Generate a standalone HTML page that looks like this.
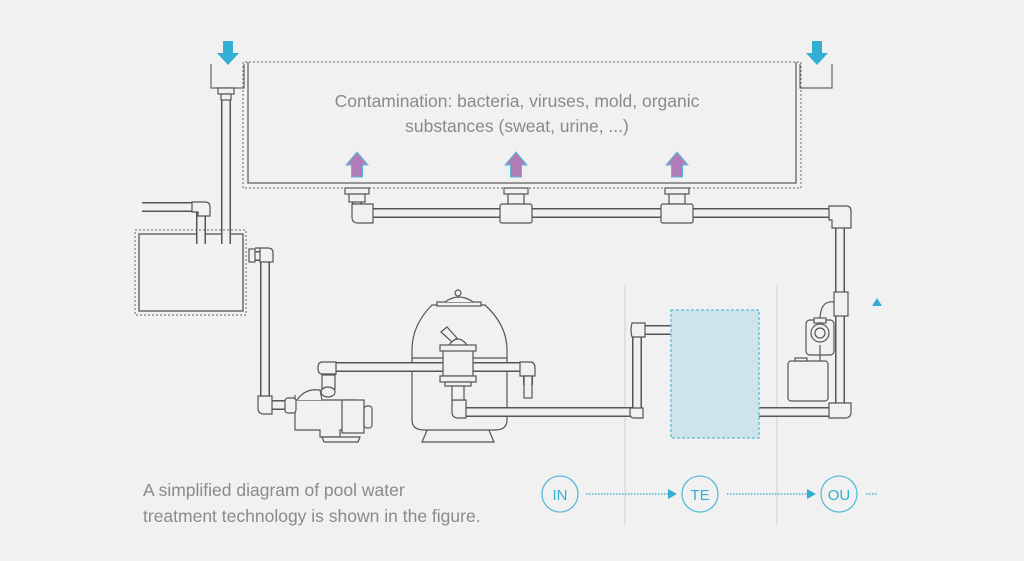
<!DOCTYPE html>
<html><head><meta charset="utf-8"><style>
html,body{margin:0;padding:0;background:#f1f1f1;}
svg{display:block;}
text{font-family:"Liberation Sans",sans-serif;}
</style></head><body>
<svg width="1024" height="561" viewBox="0 0 1024 561" xmlns="http://www.w3.org/2000/svg">
<rect width="1024" height="561" fill="#f1f1f1"/>
<defs>
<g id="uparrow"><path d="M0,-13 L11,0 L5.5,0 L5.5,12 L-5.5,12 L-5.5,0 L-11,0 Z" fill="#b07cb8" stroke="#5bbcd8" stroke-width="1"/></g>
<g id="downarrow"><path d="M-5,-12 L5,-12 L5,0 L11,0 L0,12 L-11,0 L-5,0 Z" fill="#35aed3"/></g>
</defs>

<line x1="625" y1="285" x2="625" y2="525" stroke="#d4d4d4" stroke-width="1.2"/>
<line x1="777" y1="285" x2="777" y2="525" stroke="#d4d4d4" stroke-width="1.2"/>

<path d="M243,188 L243,62 L801,62 L801,188 Z" fill="none" stroke="#666" stroke-width="1" stroke-dasharray="2,2"/>
<path d="M248,62 L248,183 L796,183 L796,62" fill="none" stroke="#777" stroke-width="1.5"/>
<path d="M211,64 L211,88 L244,88 L244,64" fill="none" stroke="#666" stroke-width="1.2"/>
<path d="M800,64 L800,88 L832,88 L832,64" fill="none" stroke="#666" stroke-width="1.2"/>
<use href="#downarrow" x="228" y="53"/>
<use href="#downarrow" x="817" y="53"/>

<text x="517" y="107" font-size="17.5" fill="#8a8a8a" text-anchor="middle">Contamination: bacteria, viruses, mold, organic</text>
<text x="517" y="132" font-size="17.5" fill="#8a8a8a" text-anchor="middle">substances (sweat, urine, ...)</text>

<use href="#uparrow" x="357" y="165"/>
<use href="#uparrow" x="516" y="165"/>
<use href="#uparrow" x="677" y="165"/>

<!-- sand filter body (behind pipes) -->
<g fill="#f1f1f1" stroke="#555" stroke-width="1.2">
 <path d="M428,428 L422,442 L494,442 L488,428 Z"/>
 <path d="M412,350 L412,420 Q412,430 424,430 L495,430 Q507,430 507,420 L507,350 Q507,325 485,305 L432,305 Q412,325 412,350 Z"/>
 <line x1="412" y1="358" x2="507" y2="358"/><line x1="412" y1="363" x2="507" y2="363"/>
 <rect x="437" y="302" width="44" height="4"/>
 <path d="M445,302 Q459,292 473,302"/>
 <circle cx="458" cy="293" r="3"/>
</g>

<!-- pipes -->
<g fill="none" stroke-linejoin="round" stroke-linecap="butt">
<g stroke="#555" stroke-width="10">
 <path d="M226,92 L226,243"/>
 <path d="M142,207 L201,207 L201,243"/>
 <path d="M250,256 L265,256 L265,405 L290,405"/>
 <path d="M328,385 L328,367 L528,367 L528,385"/>
 <path d="M458,382 L458,412 L637,412 L637,330 L672,330"/>
 <path d="M759,412 L840,412 L840,213 L357,213 L357,190"/>
 <path d="M516,213 L516,190"/><path d="M677,213 L677,190"/>
</g>
<g stroke="#f1f1f1" stroke-width="7">
 <path d="M226,92 L226,243"/>
 <path d="M142,207 L201,207 L201,243"/>
 <path d="M250,256 L265,256 L265,405 L290,405"/>
 <path d="M328,385 L328,367 L528,367 L528,385"/>
 <path d="M458,382 L458,412 L637,412 L637,330 L672,330"/>
 <path d="M759,412 L840,412 L840,213 L357,213 L357,190"/>
 <path d="M516,213 L516,190"/><path d="M677,213 L677,190"/>
</g>
</g>
<g fill="#f1f1f1" stroke="#555" stroke-width="1.2">
 <rect x="218" y="88" width="16" height="6"/><rect x="221" y="94" width="10" height="6"/>
 <rect x="345" y="188" width="24" height="6"/><rect x="349" y="194" width="16" height="8"/>
 <rect x="504" y="188" width="24" height="6"/><rect x="508" y="194" width="16" height="10"/>
 <rect x="665" y="188" width="24" height="6"/><rect x="669" y="194" width="16" height="10"/>
 <rect x="500" y="204" width="32" height="19" rx="2"/>
 <rect x="661" y="204" width="32" height="19" rx="2"/>
 <path d="M352,204 L373,204 L373,223 L358,223 Q352,223 352,217 Z"/>
 <path d="M829,206 L846,206 Q851,206 851,211 L851,228 L832,228 L832,220 L829,220 Z"/>
 <rect x="834" y="292" width="14" height="24"/>
 <path d="M829,403 L851,403 L851,412 Q851,418 845,418 L829,418 Z"/>
 <path d="M192,202 L205,202 Q210,202 210,207 L210,216 L198,216 L198,212 L192,212 Z"/>
 <path d="M255,248 L268,248 Q273,248 273,253 L273,262 L260,262 L260,248 Z"/>
 <rect x="249" y="249" width="6" height="13"/>
 <path d="M258,396 L272,396 L272,414 L264,414 Q258,414 258,408 Z"/>
 <path d="M322,362 L336,362 L336,374 L322,374 Q318,374 318,368 Q318,362 322,362 Z"/>
 <path d="M520,362 L530,362 Q535,362 535,368 L535,376 L520,376 Z"/>
 <rect x="524" y="376" width="8" height="22"/>
 <path d="M452,400 L466,400 L466,418 L458,418 Q452,418 452,412 Z"/>
 <path d="M630,408 L643,408 L643,418 L634,418 Q630,418 630,414 Z"/>
 <path d="M632,323 L645,323 L645,337 L632,337 Q630,330 632,323 Z"/>
</g>

<!-- valve (on top) -->
<g fill="#f1f1f1" stroke="#555" stroke-width="1.2">
 <path d="M441,332 L447,327 L457,338 L452,342 Z"/>
 <path d="M449,345 Q458,333 467,345"/>
 <rect x="443" y="346" width="30" height="30"/>
 <rect x="440" y="345" width="36" height="6"/>
 <rect x="440" y="376" width="36" height="6"/>
 <rect x="445" y="382" width="26" height="4"/>
 <rect x="452" y="386" width="12" height="14"/>
</g>

<!-- collection tank -->
<rect x="135" y="230" width="111" height="85" fill="none" stroke="#666" stroke-width="1" stroke-dasharray="2,2"/>
<rect x="139" y="234" width="104" height="77" fill="#f1f1f1" stroke="#555" stroke-width="1.3"/>
<g stroke="#555" stroke-width="10"><line x1="226" y1="234" x2="226" y2="244"/><line x1="201" y1="234" x2="201" y2="244"/></g>
<g stroke="#f1f1f1" stroke-width="7"><line x1="226" y1="233" x2="226" y2="245"/><line x1="201" y1="233" x2="201" y2="245"/></g>

<!-- pump -->
<g fill="#f1f1f1" stroke="#555" stroke-width="1.2">
 <path d="M295,395 L295,430 L320,430 L320,437 L340,437 L340,430 L355,430 L355,400 L295,400 Z"/>
 <path d="M297,400 Q305,388 320,390 L322,400"/>
 <rect x="285" y="398" width="11" height="15" rx="3"/>
 <rect x="322" y="375" width="13" height="14"/>
 <ellipse cx="328" cy="392" rx="7" ry="5"/>
 <rect x="342" y="400" width="22" height="33"/>
 <rect x="364" y="406" width="8" height="22" rx="3"/>
 <path d="M322,437 L360,437 L358,442 L324,442 Z"/>
</g>

<rect x="671" y="310" width="88" height="128" fill="#cde5ea" stroke="#5bbcd8" stroke-width="1.3" stroke-dasharray="3,2"/>

<g fill="#f1f1f1" stroke="#555" stroke-width="1.2">
 <path d="M820,320 Q820,300 834,302" fill="none"/>
 <rect x="806" y="320" width="28" height="35" rx="4"/>
 <circle cx="820" cy="333" r="9"/><circle cx="820" cy="333" r="5"/>
 <rect x="814" y="318" width="12" height="5"/>
 <rect x="788" y="361" width="40" height="40" rx="3"/>
 <rect x="795" y="358" width="12" height="3"/>
 <line x1="820" y1="345" x2="820" y2="361"/>
</g>
<path d="M872,306 L877,298 L882,306 Z" fill="#35aed3"/>

<text x="143" y="496" font-size="17.5" fill="#8a8a8a">A simplified diagram of pool water</text>
<text x="143" y="522" font-size="17.5" fill="#8a8a8a">treatment technology is shown in the figure.</text>
<g fill="none" stroke="#5bbcd8" stroke-width="1.3">
 <circle cx="560" cy="494" r="18"/><circle cx="700" cy="494" r="18"/><circle cx="839" cy="494" r="18"/>
</g>
<g stroke="#5bbcd8" stroke-width="1.8" stroke-dasharray="1.5,1.5">
 <line x1="586" y1="494" x2="668" y2="494"/>
 <line x1="727" y1="494" x2="807" y2="494"/>
 <line x1="866" y1="494" x2="878" y2="494"/>
</g>
<path d="M668,489 L677,494 L668,499 Z" fill="#35aed3"/>
<path d="M807,489 L816,494 L807,499 Z" fill="#35aed3"/>
<g font-size="15" fill="#35aed3" text-anchor="middle">
 <text x="560" y="500">IN</text><text x="700" y="500">TE</text><text x="839" y="500">OU</text>
</g>
</svg>
</body></html>
